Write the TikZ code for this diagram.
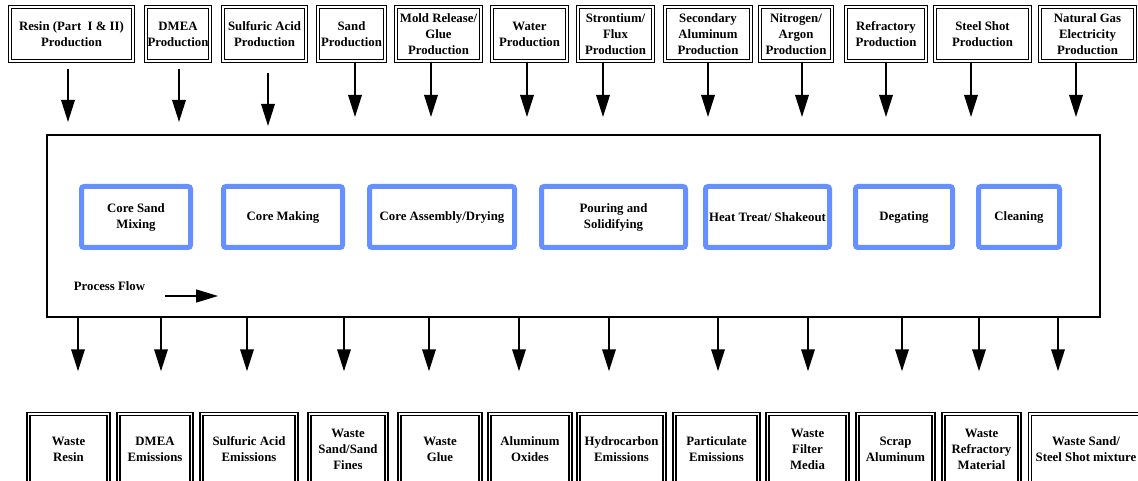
\documentclass[tikz,border=0pt]{standalone}
\usepackage{fontspec}
\setmainfont{Liberation Serif}
\usetikzlibrary{arrows.meta}
\definecolor{procblue}{RGB}{102,144,255}
\begin{document}
\begin{tikzpicture}[x=1pt,y=-1pt,
  every node/.style={font=\bfseries\fontsize{12.8}{16}\selectfont, align=center, inner sep=0pt},
  inbox/.style={draw, line width=1.5pt, double, double distance=1.4pt, minimum height=54pt},
  outbox/.style={draw, line width=1.5pt, double, double distance=1.6pt, minimum height=70pt},
  procbox/.style={draw=procblue, line width=5pt, rounded corners=2.5pt, minimum height=61pt},
  mainbox/.style={draw, line width=2pt},
  arr/.style={line width=1.9pt, -{Triangle[length=22pt,width=13.5pt]}},
  flowarr/.style={line width=1.6pt, -{Triangle[length=22pt,width=13pt]}}
]
\useasboundingbox (0,0) rectangle (1138,481);

% main process box
\node[mainbox, minimum width=1053pt, minimum height=182pt] (main) at (573.5,226) {};

% input boxes
\node[inbox, minimum width=123pt] (t1) at (71.5,34) {Resin (Part\ \ I \& II)\\Production};
\node[inbox, minimum width=64pt] (t2) at (178,34) {DMEA\\Production};
\node[inbox, minimum width=83pt] (t3) at (264.5,34) {Sulfuric Acid\\Production};
\node[inbox, minimum width=67pt] (t4) at (351.5,34) {Sand\\Production};
\node[inbox, minimum width=85pt] (t5) at (438.5,34) {Mold Release/\\Glue\\Production};
\node[inbox, minimum width=75pt] (t6) at (529.5,34) {Water\\Production};
\node[inbox, minimum width=75pt] (t7) at (615.5,34) {Strontium/\\Flux\\Production};
\node[inbox, minimum width=86pt] (t8) at (708,34) {Secondary\\Aluminum\\Production};
\node[inbox, minimum width=72pt] (t9) at (796,34) {Nitrogen/\\Argon\\Production};
\node[inbox, minimum width=80pt] (t10) at (886,34) {Refractory\\Production};
\node[inbox, minimum width=95pt] (t11) at (982.5,34) {Steel Shot\\Production};
\node[inbox, minimum width=95pt] (t12) at (1087.5,34) {Natural Gas\\Electricity\\Production};

% process steps
\node[procbox, minimum width=109pt] (p1) at (136,217) {Core Sand\\Mixing};
\node[procbox, minimum width=119pt] (p2) at (283,217) {Core Making};
\node[procbox, minimum width=145pt] (p3) at (442,217) {Core Assembly/Drying};
\node[procbox, minimum width=144pt] (p4) at (613.5,217) {Pouring and\\Solidifying};
\node[procbox, minimum width=124pt] (p5) at (767.5,217) {Heat Treat/ Shakeout};
\node[procbox, minimum width=97pt] (p6) at (904,217) {Degating};
\node[procbox, minimum width=81pt] (p7) at (1019,217) {Cleaning};

% process flow
\node (pf) at (109.5,286) {Process Flow};
\coordinate (pfa) at (165,296);
\coordinate (pfb) at (218,296);
\draw[flowarr] (pfa) -- (pfb);

% output boxes
\node[outbox, minimum width=80pt] (b1) at (68.5,449) {Waste\\Resin};
\node[outbox, minimum width=73pt] (b2) at (155,449) {DMEA\\Emissions};
\node[outbox, minimum width=95pt] (b3) at (249,449) {Sulfuric Acid\\Emissions};
\node[outbox, minimum width=77pt] (b4) at (348,449) {Waste\\Sand/Sand\\Fines};
\node[outbox, minimum width=81pt] (b5) at (440,449) {Waste\\Glue};
\node[outbox, minimum width=81pt] (b6) at (530,449) {Aluminum\\Oxides};
\node[outbox, minimum width=86pt] (b7) at (621.5,449) {Hydrocarbon\\Emissions};
\node[outbox, minimum width=84pt] (b8) at (716.5,449) {Particulate\\Emissions};
\node[outbox, minimum width=80pt] (b9) at (807.5,449) {Waste\\Filter\\Media};
\node[outbox, minimum width=76pt] (b10) at (895.5,449) {Scrap\\Aluminum};
\node[outbox, minimum width=76pt] (b11) at (981.5,449) {Waste\\Refractory\\Material};
\node[outbox, minimum width=112pt] (b12) at (1086,449) {Waste Sand/\\Steel Shot mixture};

% input arrows
\draw[arr, shorten <=7pt, shorten >=12pt] ([xshift=-3.5pt]t1.south) -- ([xshift=-3.5pt]t1.south |- main.north);
\draw[arr, shorten <=7pt, shorten >=12pt] ([xshift=1pt]t2.south) -- ([xshift=1pt]t2.south |- main.north);
\draw[arr, shorten <=11pt, shorten >=8pt] ([xshift=3.5pt]t3.south) -- ([xshift=3.5pt]t3.south |- main.north);
\draw[arr, shorten >=17pt] ([xshift=3.5pt]t4.south) -- ([xshift=3.5pt]t4.south |- main.north);
\draw[arr, shorten >=17pt] ([xshift=-7.5pt]t5.south) -- ([xshift=-7.5pt]t5.south |- main.north);
\draw[arr, shorten >=17pt] ([xshift=-2.5pt]t6.south) -- ([xshift=-2.5pt]t6.south |- main.north);
\draw[arr, shorten >=17pt] ([xshift=-12.5pt]t7.south) -- ([xshift=-12.5pt]t7.south |- main.north);
\draw[arr, shorten >=17pt] (t8.south) -- (t8.south |- main.north);
\draw[arr, shorten >=17pt] ([xshift=6pt]t9.south) -- ([xshift=6pt]t9.south |- main.north);
\draw[arr, shorten >=17pt] (t10.south) -- (t10.south |- main.north);
\draw[arr, shorten >=17pt] ([xshift=-11.5pt]t11.south) -- ([xshift=-11.5pt]t11.south |- main.north);
\draw[arr, shorten >=17pt] ([xshift=-11.5pt]t12.south) -- ([xshift=-11.5pt]t12.south |- main.north);

% output arrows
\draw[arr, shorten >=42pt] ([xshift=9.5pt]b1.north |- main.south) -- ([xshift=9.5pt]b1.north);
\draw[arr, shorten >=42pt] ([xshift=6pt]b2.north |- main.south) -- ([xshift=6pt]b2.north);
\draw[arr, shorten >=42pt] ([xshift=-2pt]b3.north |- main.south) -- ([xshift=-2pt]b3.north);
\draw[arr, shorten >=42pt] ([xshift=-4pt]b4.north |- main.south) -- ([xshift=-4pt]b4.north);
\draw[arr, shorten >=42pt] ([xshift=-11pt]b5.north |- main.south) -- ([xshift=-11pt]b5.north);
\draw[arr, shorten >=42pt] ([xshift=-11pt]b6.north |- main.south) -- ([xshift=-11pt]b6.north);
\draw[arr, shorten >=42pt] ([xshift=-12.5pt]b7.north |- main.south) -- ([xshift=-12.5pt]b7.north);
\draw[arr, shorten >=42pt] ([xshift=1.5pt]b8.north |- main.south) -- ([xshift=1.5pt]b8.north);
\draw[arr, shorten >=42pt] ([xshift=0.5pt]b9.north |- main.south) -- ([xshift=0.5pt]b9.north);
\draw[arr, shorten >=42pt] ([xshift=6.5pt]b10.north |- main.south) -- ([xshift=6.5pt]b10.north);
\draw[arr, shorten >=42pt] ([xshift=-2.5pt]b11.north |- main.south) -- ([xshift=-2.5pt]b11.north);
\draw[arr, shorten >=42pt] ([xshift=-28pt]b12.north |- main.south) -- ([xshift=-28pt]b12.north);
\end{tikzpicture}
\end{document}
